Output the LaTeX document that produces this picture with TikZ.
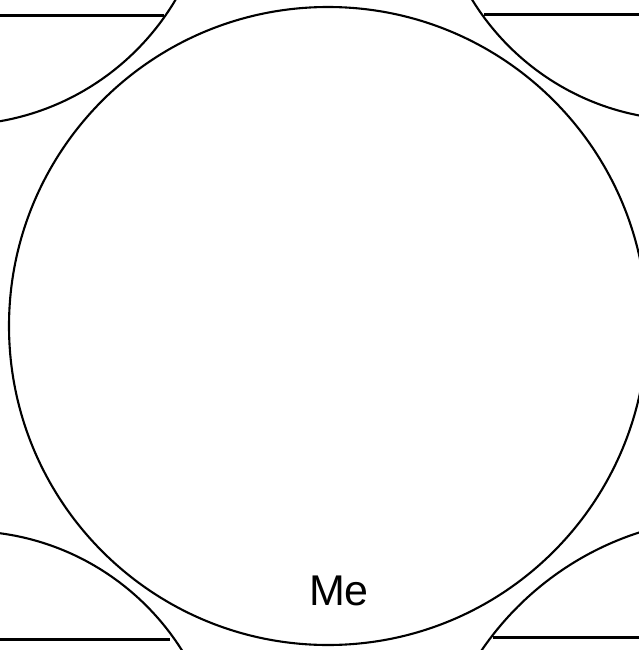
\documentclass[tikz,border=0pt]{standalone}
\usepackage{fontspec}
\setmainfont{Liberation Sans}
\begin{document}
\begin{tikzpicture}[x=1pt,y=-1pt,
  arcline/.style={line width=2.1pt, black},
  rule/.style={line width=3pt, black}]
\useasboundingbox (0,0) rectangle (639,650);
\begin{scope}
\clip (0,0) rectangle (639,650);
% central circle
\draw[arcline] (328,326) circle[radius=319pt];
% corner circles
\draw[arcline] (-44,-130) circle[radius=255pt];
\draw[arcline] (687,-132) circle[radius=252pt];
\draw[arcline] (-34,786) circle[radius=255pt];
\draw[arcline] (732,821) circle[radius=303pt];
\end{scope}
% horizontal rules
\coordinate (tl0) at (0,15.5);   \coordinate (tl1) at (164,15.5);
\coordinate (tr0) at (484,15);   \coordinate (tr1) at (639,15);
\coordinate (bl0) at (0,639);    \coordinate (bl1) at (170,639);
\coordinate (br0) at (493,637);  \coordinate (br1) at (639,637);
\draw[rule] (tl0) -- (tl1);
\draw[rule] (tr0) -- (tr1);
\draw[rule] (bl0) -- (bl1);
\draw[rule] (br0) -- (br1);
\node[font=\fontsize{43}{48}\selectfont, inner sep=0pt] (me) at (339,591) {Me};
\end{tikzpicture}
\end{document}
